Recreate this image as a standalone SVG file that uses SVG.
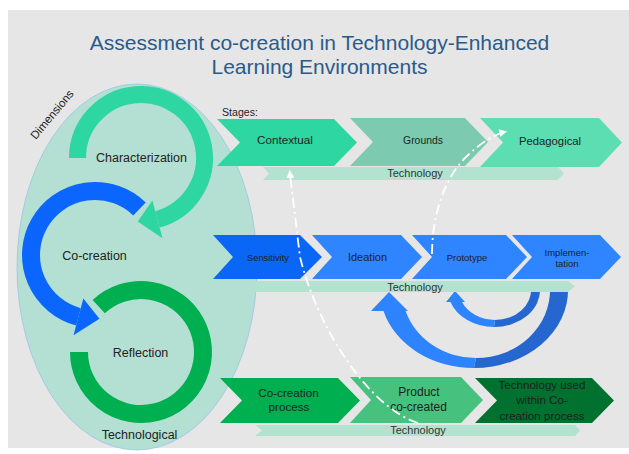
<svg xmlns="http://www.w3.org/2000/svg" width="629" height="454" viewBox="0 0 629 454">
<defs>
<style>
text{font-family:"Liberation Sans",Arial,sans-serif;fill:#1e1e1e}
.t{text-anchor:middle}
.title{fill:#2B5A89;font-size:21px;text-anchor:middle}
.dim{font-size:12.5px;text-anchor:middle;fill:#222}
.bar{fill:#B3E2D1}
.tech{font-size:11px;text-anchor:middle;fill:#333}
.conn{fill:none;stroke:#fff;stroke-width:1.8;stroke-dasharray:10 4 2 4}
</style>
<marker id="ah" markerUnits="userSpaceOnUse" markerWidth="10" markerHeight="10" refX="8" refY="4" orient="auto">
<path d="M0,0 L8,4 L0,8 Z" fill="#fff"/>
</marker>
</defs>
<rect x="8" y="10" width="621" height="438" fill="#E6E6E6"/>
<g id="title">
<text class="title" x="319.5" y="50">Assessment co-creation in Technology-Enhanced</text>
<text class="title" x="319.5" y="74">Learning Environments</text>
</g>
<g id="dimensions">
<ellipse cx="137" cy="267" rx="120" ry="183" fill="#B3E0D2" stroke="#9DC3E6" stroke-width="0.8"/>
<text x="55" y="117" font-size="11.5" text-anchor="middle" fill="#333" transform="rotate(-50 55 117)">Dimensions</text>
<text class="dim" x="139.5" y="438.5">Technological</text>
</g>
<g id="characterization">
<path d="M77.5,158 A63.5,63.5 0 1 1 157.43,219.34" fill="none" stroke="#2ED6A2" stroke-width="17"/>
<path d="M152.39,200.5 L162.48,238.17 L137.68,221.41 Z" fill="#2ED6A2"/>
<text class="dim" x="141.5" y="161.5">Characterization</text>
</g>
<g id="co-creation">
<path d="M139.46,208.96 A64,64 0 1 0 78.44,316.82" fill="none" stroke="#0A66FF" stroke-width="18"/>
<path d="M83.35,298.47 L73.52,335.17 L99.46,318.85 Z" fill="#0A66FF"/>
<text class="dim" x="94.5" y="259.5">Co-creation</text>
</g>
<g id="reflection">
<path d="M79,352 A62,62 0 1 0 98.72,306.66" fill="none" stroke="#00B050" stroke-width="18"/>
<text class="dim" x="140.5" y="356.5">Reflection</text>
</g>
<text x="222" y="116" font-size="10.6" fill="#222">Stages:</text>
<g id="bar1">
<path class="bar" d="M263,167 L558,167 L564,173.5 L558,180 L263,180 L269,173.5 Z"/>
<text class="tech" x="415" y="177">Technology</text>
</g>
<g id="contextual">
<path d="M217,119 L334,119 L357,142.5 L334,166 L217,166 L240,142.5 Z" fill="#2ED6A2"/>
<text class="t" x="285" y="144.2" font-size="11.7">Contextual</text>
</g>
<g id="grounds">
<path d="M350,118 L465,118 L488,142 L465,166 L350,166 L373,142 Z" fill="#7CCBB1"/>
<text class="t" x="423" y="143.8" font-size="10.4">Grounds</text>
</g>
<g id="pedagogical">
<path d="M480,118 L599,118 L622,142.5 L599,167 L480,167 L503,142.5 Z" fill="#5CDDB2"/>
<text class="t" x="550" y="145" font-size="11.3">Pedagogical</text>
</g>
<g id="loop-arrows">
<path d="M474,368 A94,78 0 0 0 568,288 L550,288 A74,68 0 0 1 476,358 Z" fill="#2567CF"/>
<path d="M474,368 A94,78 0 0 1 383.5,311 L371,311 L389,292 L408,311 L405.6,311 A74,68 0 0 0 476,358 Z" fill="#2E84FF"/>
<path d="M494,327 A46,37 0 0 0 540,288 L531,288 A36,30 0 0 1 495,320 Z" fill="#2567CF"/>
<path d="M494,327 A46,37 0 0 1 450.5,302 L446,302 L455,291 L465,302 L462,302 A36,30 0 0 0 495,320 Z" fill="#2E84FF"/>
</g>
<g id="bar2">
<path class="bar" d="M255,281 L568,281 L575,286.5 L568,292 L255,292 Z"/>
<text class="tech" x="415" y="291" font-size="11.4">Technology</text>
</g>
<g id="sensitivity">
<path d="M213,235 L300,235 L322,257 L300,279 L213,279 L233,257 Z" fill="#0A66F5"/>
<text class="t" x="268" y="260.5" font-size="9.3">Sensitivity</text>
</g>
<g id="ideation">
<path d="M312,235 L401,235 L422,257 L401,279 L312,279 L332,257 Z" fill="#2F85FF"/>
<text class="t" x="367.5" y="261" font-size="11">Ideation</text>
</g>
<g id="prototype">
<path d="M412,235 L506,235 L527,257 L506,279 L412,279 L432,257 Z" fill="#2F85FF"/>
<text class="t" x="467" y="260.5" font-size="9.5">Prototype</text>
</g>
<g id="implementation">
<path d="M512,235 L600,235 L621,257 L600,279 L512,279 L532,257 Z" fill="#2F85FF"/>
<text class="t" x="567" y="255.5" font-size="9.5">Implemen-</text>
<text class="t" x="567" y="266.5" font-size="9.5">tation</text>
</g>
<g id="bar3">
<path class="bar" d="M255,425 L575,425 L580,430.5 L575,436 L255,436 L262,430.5 Z"/>
<text class="tech" x="418" y="434" font-size="11.2">Technology</text>
</g>
<g id="cocreation-process">
<path d="M220,378 L338,378 L360,400.5 L338,423 L220,423 L242,400.5 Z" fill="#00B050"/>
<text class="t" x="288.5" y="397" font-size="11.7">Co-creation</text>
<text class="t" x="289" y="411" font-size="11.7">process</text>
</g>
<g id="product">
<path d="M350,377 L461,377 L483,400 L461,423 L350,423 L371,400 Z" fill="#47C17E"/>
<text class="t" x="419" y="396" font-size="12">Product</text>
<text class="t" x="418.5" y="411" font-size="12">co-created</text>
</g>
<g id="tech-used">
<path d="M475,378 L592,378 L614,400.5 L592,423 L475,423 L497,400.5 Z" fill="#00712F"/>
<text class="t" x="542" y="389" font-size="11.6">Technology used</text>
<text class="t" x="542" y="404" font-size="11.6">within Co-</text>
<text class="t" x="542" y="420" font-size="11.6">creation process</text>
</g>
<g id="connectors">
<path class="conn" d="M418,423 C370,408 318,330 300,257 L289.5,170" marker-end="url(#ah)"/>
<path class="conn" d="M432,254 C432,215 445,178 465,158 C480,143 495,134 507,131.5" marker-end="url(#ah)"/>
</g>
</svg>
